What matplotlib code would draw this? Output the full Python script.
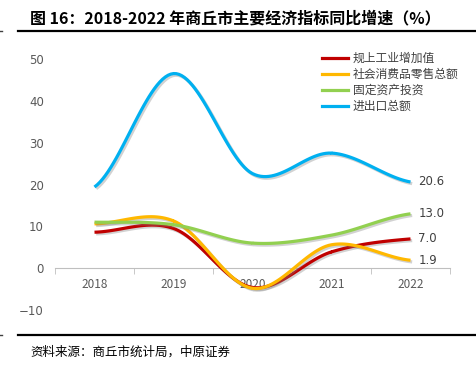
import numpy as np
import matplotlib
matplotlib.use("Agg")
import matplotlib.pyplot as plt
import matplotlib.patheffects as pe
from matplotlib.lines import Line2D

plt.rcParams['font.family'] = ['Noto Sans CJK SC', 'DejaVu Sans']

years = ["2018", "2019", "2020", "2021", "2022"]
industry = [8.6, 9.5, -4.6, 3.9, 7.0]      # 规上工业增加值
retail = [10.6, 11.3, -4.8, 5.6, 1.9]      # 社会消费品零售总额
fixed_inv = [11.0, 10.4, 6.0, 7.9, 13.0]   # 固定资产投资
trade = [19.4, 46.5, 22.6, 27.5, 20.6]     # 进出口总额

names = ["规上工业增加值", "社会消费品零售总额", "固定资产投资", "进出口总额"]
colors = ["#C00000", "#FFB800", "#92D050", "#00B0F0"]


def smooth(xs, ys, n=30):
    # catmull-rom style smoothing like excel's smoothed line
    xs = np.asarray(xs, float)
    ys = np.asarray(ys, float)
    px = np.concatenate([[2 * xs[0] - xs[1]], xs, [2 * xs[-1] - xs[-2]]])
    py = np.concatenate([[ys[0]], ys, [ys[-1]]])
    outx, outy = [], []
    for i in range(1, len(px) - 2):
        t = np.linspace(0, 1, n)
        for arr, out in ((px, outx), (py, outy)):
            p0, p1, p2, p3 = arr[i - 1], arr[i], arr[i + 1], arr[i + 2]
            out.extend(0.5 * ((2 * p1) + (-p0 + p2) * t
                              + (2 * p0 - 5 * p1 + 4 * p2 - p3) * t ** 2
                              + (-p0 + 3 * p1 - 3 * p2 + p3) * t ** 3))
    return np.array(outx), np.array(outy)


fig = plt.figure(figsize=(4.76, 3.78), dpi=100)
W, H = 476, 378
ax = fig.add_axes([55 / W, 1 - 331 / H, 395 / W, 293 / H])

x = np.arange(len(years))
series = [industry, retail, fixed_inv, trade]
shadow = [pe.SimpleLineShadow(offset=(1.2, -1.2), shadow_color="gray", alpha=0.35), pe.Normal()]
for vals, c in zip(series, colors):
    sx, sy = smooth(x, vals)
    ax.plot(sx, sy, color=c, lw=2.3, solid_capstyle="butt", path_effects=shadow, zorder=3)

# end labels
for vals in series:
    ax.text(x[-1] + 0.1, vals[-1], "%.1f" % vals[-1], fontsize=8.5, color="#404040",
            va="center", ha="left", family=['DejaVu Sans'])

ax.set_xlim(-0.5, 4.5)
ax.set_ylim(-15, 55)
ax.set_yticks([-10, 0, 10, 20, 30, 40, 50])
ax.set_xticks(x)
ax.set_xticklabels(years)
ax.set_xticks(np.arange(-0.5, 5, 1), minor=True)
ax.tick_params(axis="x", which="major", length=0, pad=7, labelsize=8.5, labelcolor="#595959")
ax.tick_params(axis="x", which="minor", length=4, color="#BFBFBF", direction="out")
ax.tick_params(axis="y", length=0, pad=8, labelsize=8.5, labelcolor="#595959")
for lab in ax.get_xticklabels() + ax.get_yticklabels():
    lab.set_family('DejaVu Sans')
for s in ["top", "right", "left"]:
    ax.spines[s].set_visible(False)
ax.spines["bottom"].set_position(("data", 0))
ax.spines["bottom"].set_color("#BFBFBF")
ax.patch.set_visible(False)

handles = [Line2D([], [], color=c, lw=2.3) for c in colors]
fig.legend(handles, names, loc="upper left", bbox_to_anchor=(322 / W, 1 - 52 / H),
           frameon=False, fontsize=8.5, handlelength=2.2, handletextpad=0.4,
           labelspacing=0.25, borderpad=0, borderaxespad=0, labelcolor="#404040")

# title, rules and source
fig.text(30 / W, 1 - 18 / H, "图 16：2018-2022 年商丘市主要经济指标同比增速（%）",
         fontsize=11.5, fontweight="bold", va="center", ha="left")
fig.add_artist(Line2D([18 / W, 1], [1 - 31 / H] * 2, color="black", lw=1.6))
fig.add_artist(Line2D([18 / W, 1], [1 - 335 / H] * 2, color="black", lw=1.6))
fig.add_artist(Line2D([0, 2 / W], [1 - 31 / H] * 2, color="#404040", lw=1))
fig.add_artist(Line2D([0, 2 / W], [1 - 335 / H] * 2, color="#404040", lw=1))
fig.text(30 / W, 1 - 352 / H, "资料来源：商丘市统计局，中原证券", fontsize=9, va="center", ha="left")

fig.savefig("out.png", dpi=100)
